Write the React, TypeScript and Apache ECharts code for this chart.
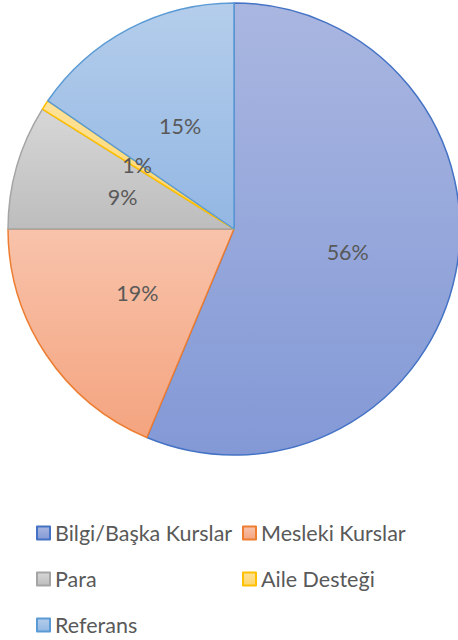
import React, { useEffect, useRef } from "react";
import * as echarts from "echarts";

const categories = ["Bilgi/Başka Kurslar", "Mesleki Kurslar", "Para", "Aile Desteği", "Referans"];
const values = [56.3, 18.7, 8.9, 0.7, 15.4];
const topColors = ["#A9B6E0", "#F8C3AB", "#D7D7D7", "#FFE29A", "#B4CDEB"];
const bottomColors = ["#8399D6", "#F4A47F", "#BDBDBD", "#FFD568", "#93B7E3"];
const borderColors = ["#4472C4", "#ED7D31", "#A5A5A5", "#FFC000", "#5B9BD5"];

const FONT = "Lato, 'Open Sans', sans-serif";

export default function App() {
  const ref = useRef<HTMLDivElement>(null);
  useEffect(() => {
    if (!ref.current) return;
    const chart = echarts.init(ref.current, undefined, { renderer: "svg" });
    const data = categories.map((name, i) => ({
      name,
      value: values[i],
      itemStyle: {
        color: new echarts.graphic.LinearGradient(0, 0, 0, 1, [
          { offset: 0, color: topColors[i] },
          { offset: 1, color: bottomColors[i] },
        ]),
        borderColor: borderColors[i],
        borderWidth: 1.5,
      },
    }));
    const legendCommon = {
      orient: "vertical" as const,
      icon: "rect",
      itemWidth: 13,
      itemHeight: 13,
      itemGap: 24,
      padding: 0,
      height: 130,
      textStyle: { color: "#595959", fontSize: 21.5, lineHeight: 22, fontFamily: FONT },
    };
    chart.setOption({
      animation: false,
      legend: [
        { ...legendCommon, left: 36, top: 522, data: [categories[0], categories[2], categories[4]] },
        { ...legendCommon, left: 242, top: 522, data: [categories[1], categories[3]] },
      ],
      series: [
        {
          type: "pie",
          center: [234, 229],
          radius: 226,
          startAngle: 90,
          clockwise: true,
          data,
          label: {
            show: true,
            position: "inside",
            color: "#595959",
            fontSize: 21.5,
            fontFamily: FONT,
            formatter: (p: any) => Math.round(p.percent) + "%",
          },
          labelLine: { show: false },
          emphasis: { disabled: true },
        },
      ],
    });
    return () => chart.dispose();
  }, []);
  return (
    <div
      ref={ref}
      style={{ position: "fixed", left: 0, top: 0, width: 458, height: 640, background: "#fff" }}
    />
  );
}
